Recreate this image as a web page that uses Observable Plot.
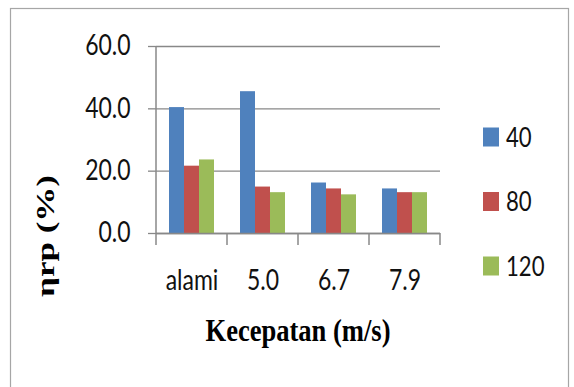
<!DOCTYPE html>
<html><head><meta charset="utf-8">
<script src="https://cdn.jsdelivr.net/npm/d3@7"></script>
<script src="https://cdn.jsdelivr.net/npm/@observablehq/plot@0.6"></script>
<style>
body{margin:0;background:#fff}
#chart{position:relative;width:574px;height:387px;overflow:hidden}
</style>
</head><body><div id="chart"></div>
<script>
const categories = ["alami", "5.0", "6.7", "7.9"];
const series = ["40", "80", "120"];
const values40 = [40.4, 45.5, 16.2, 14.3];
const values80 = [21.6, 14.9, 14.3, 13.1];
const values120 = [23.6, 13.1, 12.4, 13.1];
const yTicks = [0, 20, 40, 60];
const colors = ["#4F81BD", "#C0504D", "#9BBB59"];
const xTitle = "Kecepatan (m/s)";
const yTitle = "ηrp (%)";

const seriesValues = [values40, values80, values120];
const data = categories.flatMap((c, i) => series.map((s, j) => ({cat: c, s, v: seriesValues[j][i]})));

const gridColor = "#888888";
const sansFont = "Lato, 'Open Sans', sans-serif";
const condense = 0.82;

const chart = Plot.plot({
  width: 574, height: 387,
  marginLeft: 154, marginRight: 133, marginTop: 46, marginBottom: 154,
  style: {background: "#fff", color: "#111", fontFamily: sansFont},
  fx: {domain: categories, padding: 0, label: null},
  x: {domain: series, paddingInner: 0, paddingOuter: 0.79, axis: null},
  y: {domain: [0, 60], label: null},
  color: {domain: series, range: colors},
  marks: [
    Plot.gridY(yTicks, {stroke: gridColor, strokeOpacity: 1, strokeWidth: 1.3}),
    Plot.barY(data, {fx: "cat", x: "s", y: "v", fill: "s"}),
    Plot.ruleY([0], {stroke: gridColor, strokeWidth: 1.5}),
    Plot.axisY(yTicks, {tickFormat: d => d.toFixed(1), tickSize: 8, tickPadding: 18, fontSize: 28, stroke: gridColor, strokeWidth: 1.3, fill: "#111", label: null}),
    Plot.axisFx({anchor: "bottom", tickSize: 0, tickPadding: 37, fontSize: 28, fill: "#111", label: null})
  ]
});

document.getElementById("chart").appendChild(chart);

const svg = d3.select(chart);
// condense sans labels
svg.selectAll("text").each(function() {
  const len = this.getComputedTextLength();
  d3.select(this).attr("textLength", len * condense).attr("lengthAdjust", "spacingAndGlyphs");
});

const fx = chart.scale("fx");
const y = chart.scale("y");
const edges = categories.map(c => fx.apply(c)).concat([fx.apply(categories[categories.length - 1]) + fx.step]);
const y0 = y.apply(0), yTop = y.apply(60);
const tickLen = 12;

const axes = svg.append("g").attr("stroke", gridColor).attr("stroke-width", 1.5);
axes.append("line").attr("x1", edges[0]).attr("x2", edges[0]).attr("y1", yTop).attr("y2", y0 + tickLen);
edges.slice(1).forEach(e => {
  axes.append("line").attr("x1", e).attr("x2", e).attr("y1", y0).attr("y2", y0 + tickLen);
});

// outer border
svg.append("rect").attr("x", 10.5).attr("y", 8.5).attr("width", 558).attr("height", 390)
  .attr("fill", "none").attr("stroke", "#a6a6a6").attr("stroke-width", 1.2);

// axis titles
const xt = svg.append("text").text(xTitle)
  .attr("x", (edges[0] + edges[edges.length - 1]) / 2).attr("y", 341)
  .attr("text-anchor", "middle").attr("font-family", "'Liberation Serif', 'Times New Roman', serif")
  .attr("font-weight", "bold").attr("font-size", 31).attr("fill", "#000");
xt.attr("textLength", 185).attr("lengthAdjust", "spacingAndGlyphs");

const yt = svg.append("text").text(yTitle)
  .attr("transform", "translate(54,236) rotate(-90)")
  .attr("text-anchor", "middle").attr("font-family", "'Liberation Serif', 'Times New Roman', serif")
  .attr("font-weight", "bold").attr("font-size", 26).attr("fill", "#000");
yt.attr("textLength", 122).attr("lengthAdjust", "spacingAndGlyphs");

// legend
const color = chart.scale("color");
const legend = svg.append("g").attr("text-anchor", "start");
series.forEach((s, i) => {
  const cy = 137 + i * 64.5;
  legend.append("rect").attr("x", 483).attr("y", cy - 9.5).attr("width", 16).attr("height", 19)
    .attr("fill", color.apply(s));
  const t = legend.append("text").text(s).attr("x", 506).attr("y", cy).attr("dy", "0.36em")
    .attr("text-anchor", "start")
    .attr("font-family", sansFont).attr("font-size", 27).attr("fill", "#111");
  t.attr("textLength", t.node().getComputedTextLength() * condense).attr("lengthAdjust", "spacingAndGlyphs");
});
</script>
</body></html>
